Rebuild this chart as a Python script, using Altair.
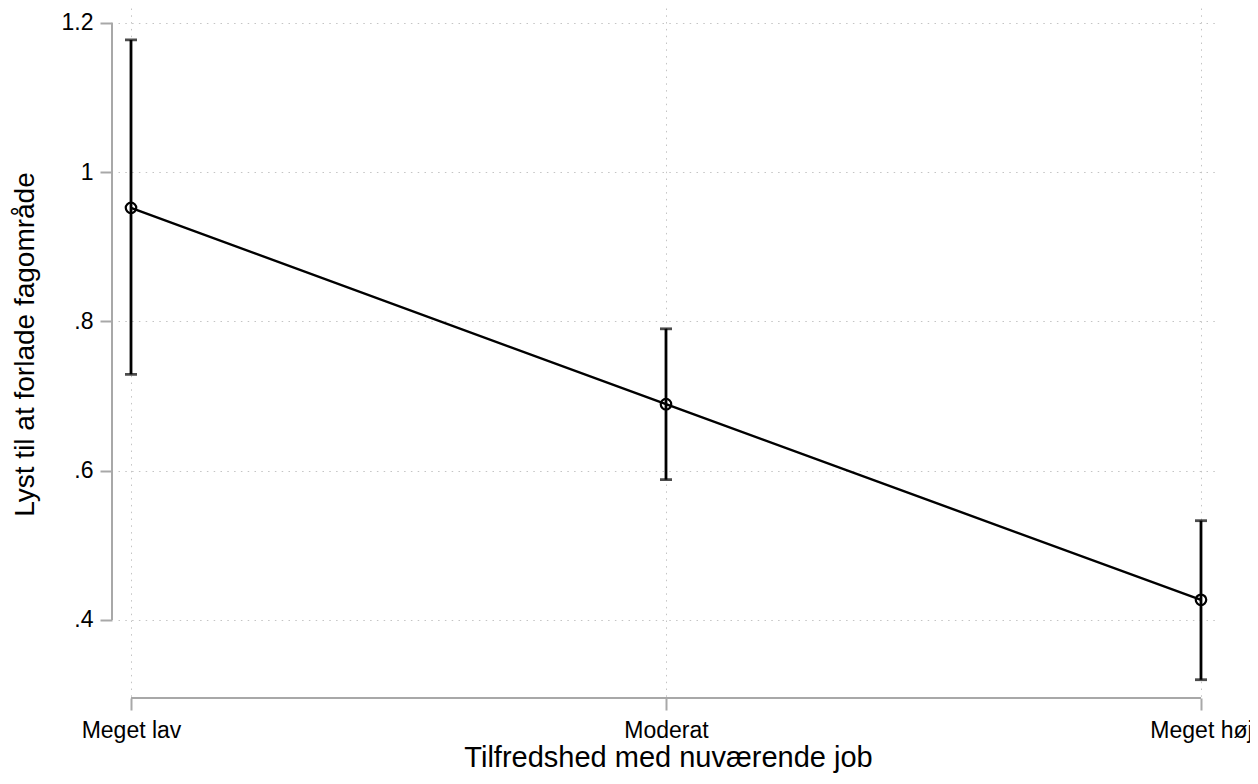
import altair as alt
import pandas as pd

# ---- data ----
categories = ["Meget lav", "Moderat", "Meget høj"]
xpos = [1, 2, 3]
estimate = [0.952, 0.689, 0.427]
ci_low = [0.729, 0.588, 0.320]
ci_high = [1.177, 0.790, 0.533]
ytick_values = [0.4, 0.6, 0.8, 1.0, 1.2]
ytick_labels = [".4", ".6", ".8", "1", "1.2"]
x_title = "Tilfredshed med nuværende job"
y_title = "Lyst til at forlade fagområde"

# ---- layout / style ----
X_DOMAIN = [0.9757, 3.0318]
Y_DOMAIN = [0.2955, 1.2197]
FONT = "Liberation Sans"
AXIS_GREY = "#a8a8a8"
GRID_GREY = "#c4c4c4"
GRID_DASH = [1.5, 5.3]

df = pd.DataFrame({"x": xpos, "cat": categories, "est": estimate,
                   "lo": ci_low, "hi": ci_high})

x_expr = " : ".join(f"datum.value == {v} ? '{c}'" for v, c in zip(xpos, categories)) + " : ''"
y_expr = " : ".join(f"abs(datum.value - {v}) < 1e-6 ? '{l}'" for v, l in zip(ytick_values, ytick_labels)) + " : ''"

xscale = alt.Scale(domain=X_DOMAIN, nice=False, zero=False)
yscale = alt.Scale(domain=Y_DOMAIN, nice=False, zero=False)

xaxis = alt.Axis(values=xpos, labelExpr=x_expr, grid=True, gridDash=GRID_DASH,
                 gridColor=GRID_GREY, gridWidth=1, domain=False, ticks=True,
                 tickSize=12, tickWidth=2, tickColor=AXIS_GREY,
                 labelFont=FONT, labelFontSize=23, labelColor="black",
                 labelPadding=9, labelFlush=False, labelOverlap=False,
                 titleFont=FONT, titleFontSize=29, titleFontWeight="normal",
                 titleColor="black", titlePadding=1)
yaxis = alt.Axis(values=ytick_values, labelExpr=y_expr, grid=True, gridDash=GRID_DASH,
                 gridColor=GRID_GREY, gridWidth=1, domain=False, ticks=True,
                 tickSize=12, tickWidth=2, tickColor=AXIS_GREY, offset=6,
                 labelFont=FONT, labelFontSize=23, labelColor="black",
                 labelPadding=7, labelFlush=False, labelOverlap=False,
                 titleFont=FONT, titleFontSize=28, titleFontWeight="normal",
                 titleColor="black", titlePadding=22, titleY=336)


def X(field="x"):
    return alt.X(field, type="quantitative", scale=xscale, axis=xaxis, title=x_title)


def Y(field):
    return alt.Y(field, type="quantitative", scale=yscale, axis=yaxis, title=y_title)


base = alt.Chart(df)

line = base.mark_line(color="black", strokeWidth=2.4).encode(x=X(), y=Y("est"))
bars = base.mark_rule(color="black", strokeWidth=2.8).encode(x=X(), y=Y("lo"), y2="hi")
cap_lo = base.mark_tick(orient="horizontal", color="black", size=12, thickness=2.8).encode(x=X(), y=Y("lo"))
cap_hi = base.mark_tick(orient="horizontal", color="black", size=12, thickness=2.8).encode(x=X(), y=Y("hi"))
points = base.mark_point(shape="circle", filled=False, color="black", size=110,
                         strokeWidth=2.2, opacity=1).encode(x=X(), y=Y("est"))

axis_df = pd.DataFrame({"x": [xpos[0]], "x2": [xpos[-1]],
                        "ylo": [ytick_values[0]], "yhi": [ytick_values[-1]],
                        "ybot": [Y_DOMAIN[0]]})
xline = alt.Chart(axis_df).mark_rule(color=AXIS_GREY, strokeWidth=2).encode(
    x=X("x"), x2="x2", y=Y("ybot"))
yline = alt.Chart(axis_df).mark_rule(color=AXIS_GREY, strokeWidth=2).encode(
    x=alt.value(-6), y=Y("ylo"), y2="yhi")

chart = alt.layer(xline, yline, line, bars, cap_lo, cap_hi, points).properties(
    width=1100, height=690,
    autosize=alt.AutoSizeParams(type="none"),
    padding={"left": 110, "top": 0, "right": 32, "bottom": 78},
    background="white",
).configure_view(stroke=None)

chart.save("out.html", embed_options={"renderer": "svg", "actions": False})
